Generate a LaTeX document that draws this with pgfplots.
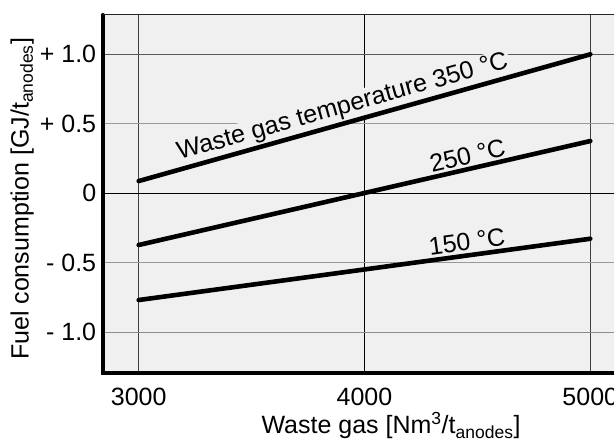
\documentclass[border=0pt]{standalone}
\usepackage{fontspec}
\setmainfont{Liberation Sans}
\usepackage{pgfplots}
\pgfplotsset{compat=1.18}
\usetikzlibrary{calc}
\definecolor{bgcol}{HTML}{F0F0F0}
\begin{document}
\fontsize{25}{30}\selectfont
\begin{tikzpicture}
\begin{axis}[
 scale only axis, width=511.3pt, height=358pt,
 xmin=2840.6, xmax=5105, ymin=-1.293, ymax=1.283,
 axis line style={draw=none},
 axis background/.style={fill=bgcol},
 clip=false,
 xtick={3000,4000,5000}, xticklabels={3000,4000,5000},
 ytick={-1,-0.5,0,0.5,1}, yticklabels={- 1.0,- 0.5,0,+ 0.5,+ 1.0},
 major tick length=0pt, tick style={draw=none},
 tick label style={font=\fontsize{25}{30}\selectfont},
 xticklabel style={yshift=-7pt},
 yticklabel style={xshift=2pt},
]
% grid
\draw[color=black!75, line width=0.8pt] (axis cs:3000,-1.293) -- (axis cs:3000,1.283);
\draw[color=black!75, line width=0.8pt] (axis cs:5000,-1.293) -- (axis cs:5000,1.283);
\draw[color=black, line width=1.3pt] (axis cs:4000,-1.293) -- (axis cs:4000,1.283);
\draw[color=black!65, line width=1pt] (axis cs:2840.6,1) -- (axis cs:5105,1);
\draw[color=black!40, line width=1pt] (axis cs:2840.6,0.5) -- (axis cs:5105,0.5);
\draw[color=black, line width=1.3pt] (axis cs:2840.6,0) -- (axis cs:5105,0);
\draw[color=black!40, line width=1pt] (axis cs:2840.6,-0.5) -- (axis cs:5105,-0.5);
\draw[color=black!45, line width=1pt] (axis cs:2840.6,-1) -- (axis cs:5105,-1);
% annotations
\node[fill=bgcol, inner sep=2pt, rotate=15.7, anchor=south, font=\fontsize{25}{30}\selectfont] at (axis cs:3920,0.522) {Waste gas temperature 350 °C};
\node[fill=bgcol, inner sep=2pt, rotate=13.0, anchor=south, font=\fontsize{25}{30}\selectfont] at (axis cs:4467,0.194) {250 °C};
\node[fill=bgcol, inner sep=2pt, rotate=7.7, anchor=south, font=\fontsize{25}{30}\selectfont] at (axis cs:4460,-0.428) {150 °C};
% data
\addplot[black, line width=4.6pt, line cap=round] coordinates {(3000,0.088) (4000,0.544) (5000,1.0)};
\addplot[black, line width=4.6pt, line cap=round] coordinates {(3000,-0.372) (4000,0.002) (5000,0.376)};
\addplot[black, line width=4.6pt, line cap=round] coordinates {(3000,-0.768) (4000,-0.548) (5000,-0.327)};
% axis lines
\draw[black, line width=4pt, line cap=round] (rel axis cs:0,1) -- (rel axis cs:0,0) -- (rel axis cs:1,0);
\draw[black!85, line width=1pt] (rel axis cs:0,1) -- (rel axis cs:1,1);
\end{axis}
\node[rotate=90, anchor=base] at ($(current axis.west)+(-74pt,-5pt)$) {Fuel consumption [GJ/t\textsubscript{anodes}]};
\node[anchor=base] at ($(current axis.south west)+(288.3pt,-61pt)$) {Waste gas [Nm\textsuperscript{3}/t\textsubscript{anodes}]};
\pgfresetboundingbox
\useasboundingbox ($(current axis.south west)+(-102.7pt,-73pt)$) rectangle ($(current axis.north east)+(0pt,15pt)$);
\end{tikzpicture}
\end{document}
